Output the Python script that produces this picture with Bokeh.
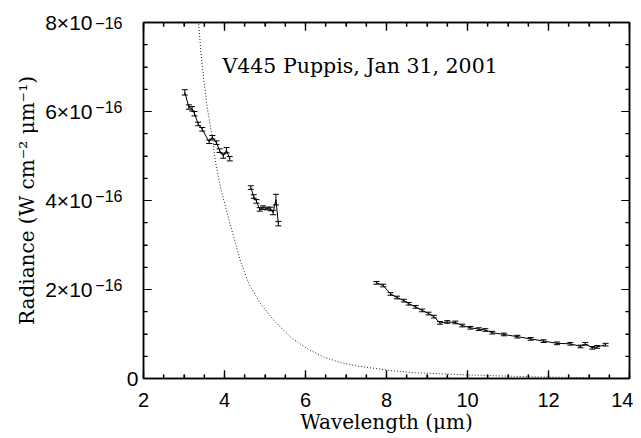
import math
from bokeh.plotting import figure
from bokeh.models import LinearAxis, FixedTicker, Label, ColumnDataSource, Range1d, CustomJSTickFormatter
from bokeh.embed import file_html
from bokeh.resources import INLINE

# Radiance in units of 1e-16 W cm^-2 um^-1
seg1_x = [3.02, 3.12, 3.20, 3.26, 3.35, 3.45, 3.62, 3.70, 3.80, 3.88, 3.97, 4.05, 4.13]
seg1_y = [6.43, 6.10, 6.06, 5.95, 5.72, 5.60, 5.32, 5.42, 5.30, 5.12, 5.00, 5.13, 4.94]
seg1_e = [0.06, 0.05, 0.05, 0.05, 0.04, 0.04, 0.04, 0.04, 0.04, 0.04, 0.05, 0.06, 0.05]

seg2_x = [4.65, 4.72, 4.79, 4.87, 4.95, 5.05, 5.14, 5.20, 5.27, 5.33]
seg2_y = [4.29, 4.09, 3.98, 3.80, 3.84, 3.82, 3.81, 3.73, 4.02, 3.48]
seg2_e = [0.04, 0.04, 0.04, 0.04, 0.04, 0.03, 0.04, 0.05, 0.12, 0.05]

seg3_x = [7.75, 7.92, 8.10, 8.26, 8.43, 8.55, 8.72, 8.88, 9.04, 9.17, 9.32, 9.50, 9.70,
          9.87, 10.07, 10.28, 10.44, 10.61, 10.90, 11.23, 11.56, 11.88, 12.21, 12.54,
          12.79, 12.91, 13.08, 13.20, 13.41]
seg3_y = [2.15, 2.09, 1.90, 1.82, 1.75, 1.68, 1.61, 1.53, 1.46, 1.39, 1.25, 1.27, 1.26,
          1.19, 1.14, 1.11, 1.09, 1.03, 0.99, 0.94, 0.89, 0.84, 0.79, 0.78,
          0.72, 0.78, 0.69, 0.71, 0.76]
seg3_e = [0.03] * len(seg3_x)

model_x = [3.33, 3.36, 3.42, 3.49, 3.58, 3.70, 3.78, 3.90, 4.07, 4.23, 4.40, 4.60, 4.89,
           5.22, 5.63, 6.04, 6.45, 6.86, 7.28, 7.77, 8.10, 8.67, 10.0, 11.5, 12.5, 13.6, 14.0]
model_y = [8.30, 8.00, 7.30, 6.70, 6.05, 5.40, 4.85, 4.30, 3.70, 3.17, 2.62, 2.13, 1.68,
           1.30, 0.93, 0.67, 0.48, 0.36, 0.28, 0.22, 0.18, 0.13, 0.08, 0.04, 0.025, 0.01, 0.01]

x_ticks = [2, 4, 6, 8, 10, 12, 14]
y_ticks = [0, 2, 4, 6, 8]
y_tick_mant = ["0", "2×10", "4×10", "6×10", "8×10"]
y_exponent = "−16"
title_text = "V445 Puppis, Jan 31, 2001"
x_label = "Wavelength (μm)"
y_label = "Radiance (W cm⁻² μm⁻¹)"

p = figure(frame_width=486, frame_height=356, x_range=Range1d(2, 14), y_range=Range1d(0, 8),
           output_backend="svg", toolbar_location=None,
           min_border_left=143, min_border_top=22, min_border_right=4, min_border_bottom=40)
p.xgrid.visible = False
p.ygrid.visible = False
p.outline_line_color = "black"
p.outline_line_width = 1.5
p.background_fill_color = "white"
p.border_fill_color = "white"

xminor = [x_ticks[0] + 0.5 * i for i in range(int((x_ticks[-1] - x_ticks[0]) / 0.5) + 1)]
yminor = [y_ticks[0] + 0.5 * i for i in range(int((y_ticks[-1] - y_ticks[0]) / 0.5) + 1)]
xt = FixedTicker(ticks=x_ticks, minor_ticks=xminor)
yt = FixedTicker(ticks=y_ticks, minor_ticks=yminor)

p.add_layout(LinearAxis(), "above")
p.add_layout(LinearAxis(), "right")

for ax in p.xaxis:
    ax.ticker = xt
for ax in p.yaxis:
    ax.ticker = yt
for ax in list(p.xaxis) + list(p.yaxis):
    ax.major_tick_in = 8
    ax.major_tick_out = 0
    ax.minor_tick_in = 4
    ax.minor_tick_out = 0
    ax.axis_line_width = 1.5
    ax.major_tick_line_width = 1.2
    ax.minor_tick_line_width = 1.2
    ax.axis_line_color = "black"
    ax.major_tick_line_color = "black"
    ax.minor_tick_line_color = "black"

bx = p.below[0]
bx.major_label_text_font = "Liberation Sans"
bx.major_label_text_font_size = "20px"
bx.major_label_text_color = "black"
bx.major_label_standoff = 14
bx.axis_label = x_label
bx.axis_label_text_font = "DejaVu Serif"
bx.axis_label_text_font_size = "20px"
bx.axis_label_text_font_style = "normal"
bx.axis_label_text_color = "black"
bx.axis_label_standoff = 0

# frame axes on the other three sides carry ticks only
for ax in [p.above[0], p.right[0], p.left[0]]:
    ax.formatter = CustomJSTickFormatter(code="return ''")
    ax.major_label_standoff = 0


def label_axis(ticks, size, standoff, overrides=None, formatter=None):
    ax = LinearAxis(ticker=FixedTicker(ticks=ticks, minor_ticks=[]),
                    major_label_text_font="Liberation Sans",
                    major_label_text_font_size=size, major_label_text_color="black",
                    major_label_standoff=standoff, axis_line_alpha=0,
                    major_tick_line_alpha=0, minor_tick_line_alpha=0,
                    major_tick_in=0, major_tick_out=0, minor_tick_in=0, minor_tick_out=0)
    if overrides:
        ax.major_label_overrides = overrides
    if formatter is not None:
        ax.formatter = formatter
    p.add_layout(ax, "left")
    return ax


# exponent labels sit a few px above their mantissas; the top one stays at the frame edge
sup_shift = 0.1
label_axis([y_ticks[0]], "21px", 5, overrides={y_ticks[0]: y_tick_mant[0]})
label_axis([min(t + sup_shift, y_ticks[-1]) for t in y_ticks[1:]], "16px", 1,
           formatter=CustomJSTickFormatter(args=dict(e=y_exponent), code="return e"))
outer = label_axis(y_ticks[1:], "21px", 0,
                   overrides={t: m for t, m in zip(y_ticks[1:], y_tick_mant[1:])})
outer.axis_label = y_label
outer.axis_label_text_font = "DejaVu Serif"
outer.axis_label_text_font_size = "20px"
outer.axis_label_text_font_style = "normal"
outer.axis_label_text_color = "black"
outer.axis_label_standoff = 3

# inward tick marks along all four frame edges, at the ticker positions (lengths in screen px)
x0, x1 = x_ticks[0], x_ticks[-1]
y0, y1 = y_ticks[0], y_ticks[-1]
xmin_only = [v for v in xminor if v not in x_ticks]
ymin_only = [v for v in yminor if v not in y_ticks]
tick_style = dict(line_color="black", line_width=1.2, length_units="screen")
for xs, ln in [(x_ticks, 8), (xmin_only, 4)]:
    p.ray(x=xs, y=[y0] * len(xs), length=ln, angle=math.pi / 2, **tick_style)
    p.ray(x=xs, y=[y1] * len(xs), length=ln, angle=-math.pi / 2, **tick_style)
for ys, ln in [(y_ticks, 8), (ymin_only, 4)]:
    p.ray(x=[x0] * len(ys), y=ys, length=ln, angle=0, **tick_style)
    p.ray(x=[x1] * len(ys), y=ys, length=ln, angle=math.pi, **tick_style)

p.add_layout(Label(x=3.95, y=7.03, text=title_text, text_align="left", text_baseline="alphabetic",
                   text_font="DejaVu Serif", text_font_size="20.5px", text_color="black"))

p.line(model_x, model_y, line_color="#222222", line_width=1, line_dash="1 2")

for xs, ys, es in [(seg1_x, seg1_y, seg1_e), (seg2_x, seg2_y, seg2_e), (seg3_x, seg3_y, seg3_e)]:
    src = ColumnDataSource(dict(x=xs, y=ys, lo=[a - b for a, b in zip(ys, es)],
                                hi=[a + b for a, b in zip(ys, es)]))
    p.line("x", "y", source=src, line_color="black", line_width=1)
    p.segment(x0="x", y0="lo", x1="x", y1="hi", source=src, line_color="black", line_width=1)
    p.scatter(x="x", y="lo", source=src, marker="dash", size=6, line_color="black", line_width=1)
    p.scatter(x="x", y="hi", source=src, marker="dash", size=6, line_color="black", line_width=1)

open("out.html", "w").write(file_html(p, INLINE))
